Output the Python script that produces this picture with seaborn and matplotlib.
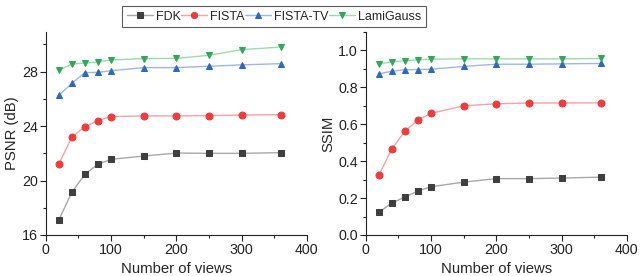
import numpy as np
import pandas as pd
import matplotlib
matplotlib.use("Agg")
import matplotlib.pyplot as plt
import seaborn as sns
from matplotlib.ticker import MultipleLocator

views = [20, 40, 60, 80, 100, 150, 200, 250, 300, 360]
methods = ["FDK", "FISTA", "FISTA-TV", "LamiGauss"]

psnr_fdk = [17.1, 19.13, 20.46, 21.2, 21.56, 21.8, 22.02, 22.0, 22.0, 22.05]
psnr_fista = [21.2, 23.2, 23.96, 24.4, 24.7, 24.75, 24.75, 24.77, 24.82, 24.84]
psnr_fistatv = [26.26, 27.14, 27.93, 27.95, 28.07, 28.3, 28.3, 28.4, 28.5, 28.59]
psnr_lami = [28.12, 28.56, 28.64, 28.71, 28.86, 28.96, 28.98, 29.2, 29.62, 29.81]

ssim_fdk = [0.122, 0.173, 0.205, 0.238, 0.261, 0.286, 0.305, 0.305, 0.308, 0.313]
ssim_fista = [0.322, 0.465, 0.562, 0.622, 0.658, 0.699, 0.710, 0.714, 0.714, 0.715]
ssim_fistatv = [0.872, 0.886, 0.894, 0.895, 0.897, 0.912, 0.924, 0.924, 0.926, 0.928]
ssim_lami = [0.926, 0.937, 0.942, 0.948, 0.951, 0.953, 0.953, 0.953, 0.953, 0.955]

sns.set_style("ticks")
plt.rcParams['font.family'] = ['Liberation Sans', 'DejaVu Sans']
plt.rcParams['font.size'] = 10.5

# marker colour, line colour, marker
styles = {
    "FDK": ("#3f3f3f", "#a8a8a8", "s"),
    "FISTA": ("#ee3b3b", "#f5a3a3", "o"),
    "FISTA-TV": ("#2d68bd", "#9fb8e2", "^"),
    "LamiGauss": ("#33a65a", "#9fd9b0", "v"),
}

psnr = pd.DataFrame({"views": views, "FDK": psnr_fdk, "FISTA": psnr_fista,
                     "FISTA-TV": psnr_fistatv, "LamiGauss": psnr_lami})
ssim = pd.DataFrame({"views": views, "FDK": ssim_fdk, "FISTA": ssim_fista,
                     "FISTA-TV": ssim_fistatv, "LamiGauss": ssim_lami})

fig = plt.figure(figsize=(6.4, 2.76), dpi=100)
ax1 = fig.add_axes([0.0714, 0.1486, 0.408, 0.7366])
ax2 = fig.add_axes([0.5714, 0.1486, 0.408, 0.7366])

for ax, df in [(ax1, psnr), (ax2, ssim)]:
    for m in methods:
        mc, lc, mk = styles[m]
        sns.lineplot(data=df, x="views", y=m, ax=ax, color=lc, lw=1.0,
                     marker=mk, markersize=5, markerfacecolor=mc,
                     markeredgecolor=mc, label=m, legend=False)
    ax.set_xlim(0, 400)
    ax.xaxis.set_major_locator(MultipleLocator(100))
    ax.xaxis.set_minor_locator(MultipleLocator(50))
    ax.set_xlabel("Number of views", fontsize=10.7)
    ax.tick_params(which="major", direction="out", length=4, width=0.8,
                   labelsize=10.3, pad=1.5, colors="#222222")
    ax.tick_params(which="minor", direction="out", length=2, width=0.8, colors="#222222")
    for s in ["left", "bottom"]:
        ax.spines[s].set_linewidth(0.8)
        ax.spines[s].set_color("#222222")
    sns.despine(ax=ax)

ax1.set_ylim(16, 30.94)
ax1.yaxis.set_major_locator(MultipleLocator(4))
ax1.yaxis.set_minor_locator(MultipleLocator(2))
ax1.set_ylabel("PSNR (dB)", fontsize=10.7, labelpad=2)

ax2.set_ylim(0, 1.1)
ax2.yaxis.set_major_locator(MultipleLocator(0.2))
ax2.yaxis.set_minor_locator(MultipleLocator(0.1))
ax2.set_yticklabels([f"{v:.1f}" for v in ax2.get_yticks()])
ax2.set_ylim(0, 1.1)
ax2.set_ylabel("SSIM", fontsize=10.7, labelpad=2)

handles, labels = ax1.get_legend_handles_labels()
leg = fig.legend(handles, labels, loc="upper center", ncol=4,
                 bbox_to_anchor=(0.428, 1.0), frameon=True, fancybox=False,
                 handlelength=2.1, handletextpad=0.25, columnspacing=0.0,
                 borderpad=0.35, fontsize=9, markerscale=0.9)
leg.get_frame().set_edgecolor("#333333")
leg.get_frame().set_linewidth(0.8)

fig.savefig("out.png", dpi=100)
